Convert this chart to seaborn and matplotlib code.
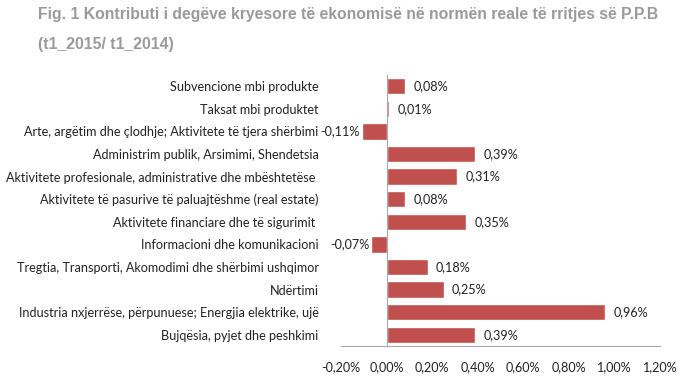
import matplotlib
matplotlib.use("Agg")
import matplotlib.pyplot as plt
import seaborn as sns
import pandas as pd
from matplotlib.ticker import FixedLocator

# sectors, top to bottom as in the figure
sectors = [
    "Subvencione mbi produkte",
    "Taksat mbi produktet",
    "Arte, argëtim dhe çlodhje; Aktivitete të tjera shërbimi",
    "Administrim publik, Arsimimi, Shendetsia",
    "Aktivitete profesionale, administrative dhe mbështetëse ",
    "Aktivitete të pasurive të paluajtëshme (real estate)",
    "Aktivitete financiare dhe të sigurimit ",
    "Informacioni dhe komunikacioni",
    "Tregtia, Transporti, Akomodimi dhe shërbimi ushqimor",
    "Ndërtimi",
    "Industria nxjerrëse, përpunuese; Energjia elektrike, ujë",
    "Bujqësia, pyjet dhe peshkimi",
]
contrib = [0.08, 0.01, -0.11, 0.39, 0.31, 0.08, 0.35, -0.07, 0.18, 0.25, 0.96, 0.39]
xticks = [-0.2, 0.0, 0.2, 0.4, 0.6, 0.8, 1.0, 1.2]

title_1 = "Fig. 1 Kontributi i degëve kryesore të ekonomisë në normën reale të rritjes së P.P.B"
title_2 = "(t1_2015/ t1_2014)"

bar_color = "#c0504d"
axis_grey = "#a6a6a6"
text_font = ["Lato", "DejaVu Sans"]
fs = 9.1


def pct(v):
    return f"{v:.2f}%".replace(".", ",")


df = pd.DataFrame({"sector": sectors, "contrib": contrib})

sns.set_style("white")
plt.rcParams["font.family"] = text_font

fig = plt.figure(figsize=(6.8, 3.81), dpi=100)
ax = fig.add_axes([341 / 680, 35 / 381, 319 / 680, 271 / 381])

sns.barplot(data=df, x="contrib", y="sector", orient="h", color=bar_color,
            saturation=1, width=0.72, ax=ax)

ax.set_xlim(-0.2, 1.2)
ax.set_ylim(11.5, -0.5)
ax.set_xlabel("")
ax.set_ylabel("")

# x axis along the bottom
ax.set_xticks(xticks)
ax.set_xticklabels([pct(t) for t in xticks], fontsize=fs, color="#222222")
ax.tick_params(axis="x", direction="out", length=3, width=0.8, color=axis_grey, pad=8)

# category axis drawn at zero, labels pushed out to the left edge
ax.spines["left"].set_position(("data", 0))
ax.spines["left"].set_color(axis_grey)
ax.spines["bottom"].set_color(axis_grey)
ax.spines["right"].set_visible(False)
ax.spines["top"].set_visible(False)
ax.tick_params(axis="y", which="major", length=0, pad=49, labelsize=fs, labelcolor="#222222")
ax.yaxis.set_minor_locator(FixedLocator([i + 0.5 for i in range(-1, len(sectors))]))
ax.tick_params(axis="y", which="minor", length=3, width=0.8, color=axis_grey, direction="out")

for i, v in enumerate(contrib):
    if v >= 0:
        ax.annotate(pct(v), (v, i), xytext=(6, 0), textcoords="offset points",
                    ha="left", va="center", fontsize=fs, color="#222222")
    else:
        ax.annotate(pct(v), (v, i), xytext=(-1, 0), textcoords="offset points",
                    ha="right", va="center", fontsize=fs, color="#222222")

fig.text(38 / 680, 1 - 14 / 381, title_1, fontsize=11.3, fontweight="bold",
         color="#9a9a9a", family=["Liberation Sans", "DejaVu Sans"], va="center")
fig.text(38 / 680, 1 - 45 / 381, title_2, fontsize=11.3, fontweight="bold",
         color="#9a9a9a", family=["Liberation Sans", "DejaVu Sans"], va="center")

fig.savefig("out.png", dpi=100, facecolor="white")
